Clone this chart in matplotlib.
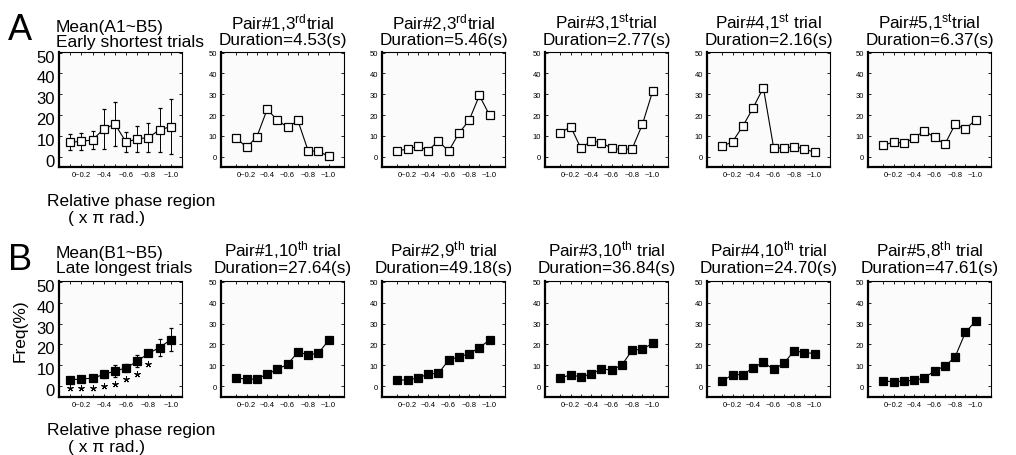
import matplotlib
matplotlib.use('Agg')
import matplotlib.pyplot as plt
import matplotlib.transforms as mtransforms

plt.rcParams['font.family'] = ['Liberation Sans', 'DejaVu Sans']
plt.rcParams['mathtext.fontset'] = 'custom'
plt.rcParams['mathtext.rm'] = 'Liberation Sans'
plt.rcParams['mathtext.it'] = 'Liberation Sans:italic'
plt.rcParams['mathtext.bf'] = 'Liberation Sans:bold'

# ---------------- data ----------------
regions = list(range(1, 11))
xtick_labels = ['', '0~0.2', '', '~0.4', '', '~0.6', '', '~0.8', '', '~1.0']
yticks = [0, 10, 20, 30, 40, 50]

mean_early = [7.0, 7.4, 8.1, 13.3, 15.7, 7.0, 8.6, 9.2, 13.0, 14.4]
err_early = [3.7, 4.2, 4.2, 9.5, 10.7, 4.8, 6.2, 6.8, 10.6, 13.1]

pair1_early = [9.0, 4.5, 9.6, 22.7, 17.6, 14.1, 17.4, 2.9, 2.6, 0.3]
pair2_early = [3.0, 3.6, 5.1, 3.0, 7.6, 2.7, 11.3, 17.5, 29.4, 19.9]
pair3_early = [11.4, 14.5, 4.1, 7.6, 6.8, 4.1, 3.5, 3.8, 15.5, 31.4]
pair4_early = [5.0, 7.3, 14.7, 23.5, 33.1, 4.4, 4.1, 4.9, 3.8, 2.1]
pair5_early = [5.5, 7.1, 6.5, 9.0, 12.5, 9.3, 6.0, 15.6, 13.2, 17.8]

mean_late = [2.9, 3.5, 3.7, 5.6, 7.2, 8.7, 11.9, 15.7, 18.5, 22.3]
err_late = [1.0, 1.3, 0.7, 1.7, 2.8, 2.1, 2.9, 1.2, 4.1, 5.5]
star_x = [1, 2, 3, 4, 5, 6, 7, 8]
star_y = [-1.0, -1.0, -0.7, -0.1, 1.2, 3.5, 5.6, 10.8]

pair1_late = [3.9, 3.3, 3.3, 5.8, 8.0, 10.5, 16.3, 15.0, 15.8, 21.9]
pair2_late = [2.8, 3.0, 3.8, 5.8, 6.1, 12.4, 14.1, 15.4, 18.5, 22.1]
pair3_late = [3.9, 5.4, 4.4, 5.8, 8.2, 7.7, 10.1, 17.2, 17.7, 20.5]
pair4_late = [2.4, 5.5, 5.5, 8.8, 11.4, 8.0, 10.9, 16.9, 16.1, 15.6]
pair5_late = [2.4, 2.1, 2.4, 2.8, 3.8, 7.4, 9.5, 14.0, 25.7, 31.2]

early_pairs = [pair1_early, pair2_early, pair3_early, pair4_early, pair5_early]
late_pairs = [pair1_late, pair2_late, pair3_late, pair4_late, pair5_late]

early_title1 = [r'Pair#1,3$^{\mathrm{rd}}$trial', r'Pair#2,3$^{\mathrm{rd}}$trial',
                r'Pair#3,1$^{\mathrm{st}}$trial', r'Pair#4,1$^{\mathrm{st}}$ trial',
                r'Pair#5,1$^{\mathrm{st}}$trial']
early_title2 = ['Duration=4.53(s)', 'Duration=5.46(s)', 'Duration=2.77(s)',
                'Duration=2.16(s)', 'Duration=6.37(s)']
late_title1 = [r'Pair#1,10$^{\mathrm{th}}$ trial', r'Pair#2,9$^{\mathrm{th}}$ trial',
               r'Pair#3,10$^{\mathrm{th}}$ trial', r'Pair#4,10$^{\mathrm{th}}$ trial',
               r'Pair#5,8$^{\mathrm{th}}$ trial']
late_title2 = ['Duration=27.64(s)', 'Duration=49.18(s)', 'Duration=36.84(s)',
               'Duration=24.70(s)', 'Duration=47.61(s)']

# ---------------- layout ----------------
W, H = 1016, 456
fig = plt.figure(figsize=(W / 100, H / 100), dpi=100)
col_left = [59, 221, 382, 545, 707, 868]
ax_w = 123
row_top = [52.7, 282.0]
ax_h = 115.5


def px_rect(left, top):
    return [left / W, 1 - (top + ax_h) / H, ax_w / W, ax_h / H]


def ftxt(x, y, s, **kw):
    return fig.text(x / W, 1 - y / H, s, **kw)


def style(ax, big=False):
    ax.set_facecolor('#fbfbfb')
    ax.set_ylim(-5, 50.4)
    ax.set_yticks(yticks)
    ax.set_xticks(regions)
    ax.set_xticklabels(xtick_labels)
    ax.tick_params(axis='both', direction='in', length=2, width=0.6,
                   top=True, right=True, colors='black')
    ax.tick_params(axis='x', labelsize=5.5, pad=3)
    ax.tick_params(axis='y', labelsize=12 if big else 5.5, pad=3)
    for s in ['left', 'bottom']:
        ax.spines[s].set_linewidth(1.6)
    for s in ['top', 'right']:
        ax.spines[s].set_linewidth(0.8)
    if big:
        off = mtransforms.ScaledTranslation(0, -3 / 100, fig.dpi_scale_trans)
        for lab in ax.get_yticklabels():
            lab.set_transform(lab.get_transform() + off)


rows = [
    (mean_early, err_early, early_pairs, early_title1, early_title2, 'white',
     'Mean(A1~B5)', 'Early shortest trials', 'A'),
    (mean_late, err_late, late_pairs, late_title1, late_title2, 'black',
     'Mean(B1~B5)', 'Late longest trials', 'B'),
]

for r, (mvals, evals, pairs, t1, t2, mfc, mt1, mt2, letter) in enumerate(rows):
    top = row_top[r]
    dy = top - row_top[0]
    # mean panel
    ax = fig.add_axes(px_rect(col_left[0], top))
    ax.errorbar(regions, mvals, yerr=evals, color='black', lw=0.8, elinewidth=0.7,
                capsize=1.2, capthick=0.7, marker='s', ms=6, mfc=mfc, mec='black',
                mew=0.9)
    if r == 1:
        ax.plot(star_x, star_y, ls='none', marker=(5, 2, 0), ms=4.5,
                mec='black', mew=0.7)
    ax.set_xlim(0, 11)
    style(ax, big=True)
    ftxt(55.5, 49.5 + dy - (3 if r == 1 else 0), mt1 + '\n' + mt2, fontsize=12.5,
         ha='left', va='bottom', linespacing=0.98, multialignment='left')
    ftxt(20, 31 + dy, letter, fontsize=26, ha='center', va='center')
    ftxt(131, 206 + dy, 'Relative phase region', fontsize=12.5, ha='center', va='baseline')
    ftxt(106, 223 + dy, '( x \u03c0 rad.)', fontsize=12.5, ha='center', va='baseline')
    if r == 1:
        ftxt(20, 331, 'Freq(%)', fontsize=12.5, ha='center', va='center', rotation=90)

    for i in range(5):
        ax = fig.add_axes(px_rect(col_left[i + 1], top))
        ax.plot(regions, pairs[i], color='black', lw=0.8, marker='s', ms=5.2,
                mfc=mfc, mec='black', mew=0.9)
        ax.set_xlim(-0.5, 11.5)
        style(ax)
        cx = col_left[i + 1] + ax_w / 2
        ftxt(cx, 48 + dy - (1.5 if r == 1 else 0), t1[i] + '\n' + t2[i], fontsize=12.3,
             ha='center', va='bottom', linespacing=0.95, multialignment='center')

fig.savefig('out.png', dpi=100)
